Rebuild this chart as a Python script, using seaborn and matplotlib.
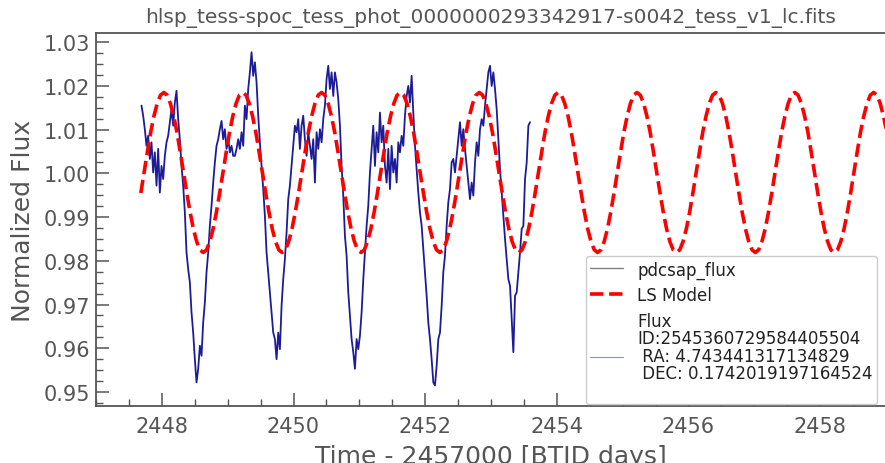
import numpy as np
import pandas as pd
import matplotlib
matplotlib.use("Agg")
import matplotlib.pyplot as plt
from matplotlib.lines import Line2D
from matplotlib.ticker import MultipleLocator, AutoMinorLocator, FormatStrFormatter
import seaborn as sns

# ---------------- data ----------------
title = "hlsp_tess-spoc_tess_phot_0000000293342917-s0042_tess_v1_lc.fits"
xlabel = "Time - 2457000 [BTID days]"
ylabel = "Normalized Flux"
legend_labels = [
    "pdcsap_flux",
    "LS Model",
    "Flux\nID:2545360729584405504\n RA: 4.743441317134829\n DEC: 0.1742019197164524\n",
]

flux_start = 2447.691   # first cadence (BTJD)
flux_step = 0.02533     # cadence spacing (days)
flux = [
    1.0155, 1.0132, 1.0101, 1.0063, 1.0086, 1.0033, 1.0071, 1.0002, 1.0048, 0.9972,
    1.0056, 0.9956, 1.0017, 0.9987, 1.0040, 1.0071, 1.0086, 1.0117, 1.0147, 1.0109,
    1.0162, 1.0189, 1.0124, 1.0078, 1.0017, 0.9972, 0.9911, 0.9819, 0.9781, 0.9751,
    0.9682, 0.9636, 0.9575, 0.9522, 0.9553, 0.9606, 0.9583, 0.9659, 0.9705, 0.9774,
    0.9819, 0.9880, 0.9926, 0.9979, 1.0025, 1.0063, 1.0078, 1.0101, 1.0120, 1.0078,
    1.0101, 1.0056, 1.0078, 1.0048, 1.0063, 1.0040,
    1.0040, 1.0056, 1.0078, 1.0056, 1.0094, 1.0063, 1.0155, 1.0124, 1.0193, 1.0231,
    1.0277, 1.0223, 1.0254, 1.0208, 1.0132, 1.0071, 1.0017, 0.9964, 0.9903, 0.9819,
    0.9774, 0.9728, 0.9682, 0.9636, 0.9621, 0.9575, 0.9636, 0.9598, 0.9697, 0.9758,
    0.9804, 0.9865, 0.9941, 0.9972, 1.0017, 1.0063, 1.0109, 1.0094, 1.0124, 1.0056,
    1.0109, 1.0132, 1.0078, 1.0040, 1.0094, 1.0063, 1.0033, 1.0078, 0.9979, 1.0094,
    1.0056, 1.0101, 1.0071, 1.0124, 1.0155, 1.0216, 1.0246, 1.0193, 1.0231, 1.0177,
    1.0231, 1.0208, 1.0170, 1.0109, 1.0017, 0.9949, 0.9857, 0.9812, 0.9728, 0.9674,
    0.9621, 0.9591, 0.9553, 0.9621, 0.9598, 0.9629, 0.9682, 0.9758, 0.9819, 0.9880,
    0.9926, 1.0002, 1.0056, 1.0109, 1.0017, 1.0094, 1.0048, 1.0139, 1.0071, 1.0109,
    1.0017, 0.9979, 1.0056, 0.9964, 1.0063, 1.0002, 1.0033, 0.9979, 1.0071, 1.0048,
    1.0086, 1.0063, 1.0132, 1.0177, 1.0200, 1.0162, 1.0223, 1.0139, 1.0063, 1.0010,
    0.9956, 0.9911, 0.9880, 0.9827, 0.9774, 0.9720, 0.9659, 0.9621, 0.9575, 0.9522,
    0.9515, 0.9560, 0.9621, 0.9636, 0.9697, 0.9774, 0.9812, 0.9880, 0.9934, 0.9964,
    1.0025, 1.0033, 1.0002, 1.0040, 1.0078, 1.0117, 1.0063, 1.0101, 1.0056, 1.0017,
    0.9979, 0.9941, 0.9979, 0.9949, 1.0025, 1.0071, 1.0040, 1.0101, 1.0124, 1.0109,
    1.0155, 1.0193, 1.0231, 1.0246, 1.0200, 1.0231, 1.0193, 1.0147, 1.0078, 1.0010,
    0.9956, 0.9903, 0.9850, 0.9804, 0.9758, 0.9743, 0.9667, 0.9591, 0.9720, 0.9728,
    0.9774, 0.9819, 0.9873, 0.9880, 0.9987, 1.0025, 1.0109, 1.0117,
]

model_start = 2447.6806
model_step = 0.049917
model_flux = [
    0.9955, 1.0002, 1.0049, 1.0094, 1.0131, 1.0160, 1.0179, 1.0185, 1.0179, 1.0160, 1.0131, 1.0094,
    1.0049, 1.0002, 0.9955, 0.9911, 0.9873, 0.9844, 0.9825, 0.9819, 0.9825, 0.9844, 0.9873, 0.9911,
    0.9955, 1.0002, 1.0049, 1.0094, 1.0131, 1.0160, 1.0179, 1.0185, 1.0179, 1.0160, 1.0131, 1.0094,
    1.0049, 1.0002, 0.9955, 0.9911, 0.9873, 0.9844, 0.9825, 0.9819, 0.9825, 0.9844, 0.9873, 0.9911,
    0.9955, 1.0002, 1.0049, 1.0094, 1.0131, 1.0160, 1.0179, 1.0185, 1.0179, 1.0160, 1.0131, 1.0094,
    1.0049, 1.0002, 0.9955, 0.9911, 0.9873, 0.9844, 0.9825, 0.9819, 0.9825, 0.9844, 0.9873, 0.9911,
    0.9955, 1.0002, 1.0049, 1.0094, 1.0131, 1.0160, 1.0179, 1.0185, 1.0179, 1.0160, 1.0131, 1.0094,
    1.0049, 1.0002, 0.9955, 0.9911, 0.9873, 0.9844, 0.9825, 0.9819, 0.9825, 0.9844, 0.9873, 0.9911,
    0.9955, 1.0002, 1.0049, 1.0094, 1.0131, 1.0160, 1.0179, 1.0185, 1.0179, 1.0160, 1.0131, 1.0094,
    1.0049, 1.0002, 0.9955, 0.9911, 0.9873, 0.9844, 0.9825, 0.9819, 0.9825, 0.9844, 0.9873, 0.9911,
    0.9955, 1.0002, 1.0049, 1.0094, 1.0131, 1.0160, 1.0179, 1.0185, 1.0179, 1.0160, 1.0131, 1.0094,
    1.0049, 1.0002, 0.9955, 0.9911, 0.9873, 0.9844, 0.9825, 0.9819, 0.9825, 0.9844, 0.9873, 0.9911,
    0.9955, 1.0002, 1.0049, 1.0094, 1.0131, 1.0160, 1.0179, 1.0185, 1.0179, 1.0160, 1.0131, 1.0094,
    1.0049, 1.0002, 0.9955, 0.9911, 0.9873, 0.9844, 0.9825, 0.9819, 0.9825, 0.9844, 0.9873, 0.9911,
    0.9955, 1.0002, 1.0049, 1.0094, 1.0131, 1.0160, 1.0179, 1.0185, 1.0179, 1.0160, 1.0131, 1.0094,
    1.0049, 1.0002, 0.9955, 0.9911, 0.9873, 0.9844, 0.9825, 0.9819, 0.9825, 0.9844, 0.9873, 0.9911,
    0.9955, 1.0002, 1.0049, 1.0094, 1.0131, 1.0160, 1.0179, 1.0185, 1.0179, 1.0160, 1.0131, 1.0094,
    1.0049, 1.0002, 0.9955, 0.9911, 0.9873, 0.9844, 0.9825, 0.9819, 0.9825, 0.9844, 0.9873, 0.9911,
    0.9955, 1.0002, 1.0049, 1.0094, 1.0131, 1.0160, 1.0179, 1.0185, 1.0179, 1.0160, 1.0131, 1.0094,
]

# ---------------- build tables ----------------
lc = pd.DataFrame({"time": flux_start + flux_step * np.arange(len(flux)), "flux": flux})
ls = pd.DataFrame({"time": model_start + model_step * np.arange(len(model_flux)), "flux": model_flux})

# ---------------- style ----------------
sns.set_style("white")
plt.rcParams["font.family"] = ["DejaVu Sans"]
text_gray = "#555555"
spine_gray = "#555555"

fig = plt.figure(figsize=(8.85, 4.64), dpi=100)
ax = fig.add_axes([96 / 885, 57 / 464, 790 / 885, 373 / 464])

sns.lineplot(data=lc, x="time", y="flux", ax=ax, color="#1c1c98", linewidth=1.3,
             estimator=None, sort=False)
sns.lineplot(data=ls, x="time", y="flux", ax=ax, color="red", linewidth=2.6,
             linestyle="--", estimator=None, sort=False)

ax.set_xlim(2447.0, 2459.0)
ax.set_ylim(0.9468, 1.0321)
ax.xaxis.set_major_locator(MultipleLocator(2))
ax.xaxis.set_minor_locator(AutoMinorLocator(4))
ax.yaxis.set_major_locator(MultipleLocator(0.01))
ax.yaxis.set_minor_locator(AutoMinorLocator(4))
ax.yaxis.set_major_formatter(FormatStrFormatter("%.2f"))

ax.tick_params(which="both", direction="in", colors=spine_gray, labelcolor=text_gray,
               bottom=True, left=True, top=False, right=False)
ax.tick_params(which="major", length=9.5, width=1.1, labelsize=15)
ax.tick_params(which="minor", length=5, width=1.0)
ax.tick_params(axis="y", which="major", pad=4)
ax.tick_params(axis="x", which="major", pad=7)

for side in ["left", "bottom", "top"]:
    ax.spines[side].set_color(spine_gray)
    ax.spines[side].set_linewidth(1.3)
ax.spines["right"].set_visible(False)

ax.set_title(title, fontsize=14.5, color=text_gray, pad=8)
ax.set_xlabel(xlabel, fontsize=18, color=text_gray, labelpad=6)
ax.set_ylabel(ylabel, fontsize=18, color=text_gray, labelpad=6)

handles = [
    Line2D([], [], color="#808080", linewidth=1.0),
    Line2D([], [], color="red", linewidth=2.6, linestyle="--"),
    Line2D([], [], color="#8c8cf0", linewidth=0.8),
]
leg = ax.legend(handles, legend_labels, loc="lower right", fontsize=12, frameon=True,
                framealpha=1.0, edgecolor="#cccccc", fancybox=True,
                borderaxespad=0.0, labelspacing=0.45, borderpad=0.25,
                handletextpad=0.85,
                bbox_to_anchor=((877 - 96) / 790, (407 - 405) / 373))
for t in leg.get_texts():
    t.set_color("#222222")
    t.set_linespacing(0.97)

fig.savefig("out.png", dpi=100)
